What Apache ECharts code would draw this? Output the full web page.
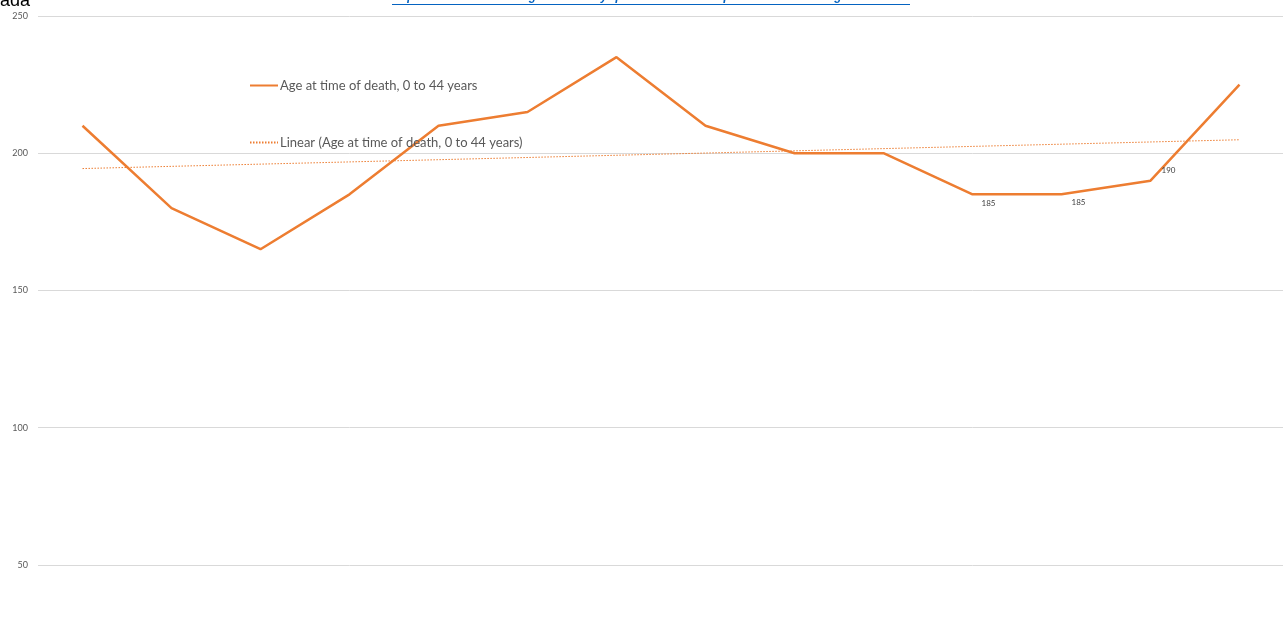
<!DOCTYPE html>
<html><head><meta charset="utf-8">
<script src="https://cdn.jsdelivr.net/npm/echarts@6/dist/echarts.min.js"></script>
<style>html,body{margin:0;padding:0;background:#fff}#c{width:1283px;height:630px}</style>
</head><body><div id="c"></div>
<script>
const categories = ['1','2','3','4','5','6','7','8','9','10','11','12','13','14'];
const deaths0to44 = [210,180,165,185,210,215,235,210,200,200,185,185,190,225];
const trendStart = 194.4;
const trendEnd = 204.9;
const labelledIdx = [10,11,12];
const yTicks = [0,50,100,150,200,250];

const seriesName = 'Age at time of death, 0 to 44 years';
const trendName = 'Linear (Age at time of death, 0 to 44 years)';
const orange = '#ED7D31';

const trendData = categories.map((c,i)=> i===0 ? trendStart : (i===categories.length-1 ? trendEnd : null));
const labelOffsets = {10:[16,9],11:[17,8],12:[18,-10.5]};
const mainData = deaths0to44.map((v,i)=>{
  if (labelledIdx.indexOf(i) >= 0) {
    return {value:v, label:{show:true, position:'inside', offset:labelOffsets[i]}};
  }
  return v;
});

const chart = echarts.init(document.getElementById('c'), null, {renderer:'canvas'});
chart.setOption({
  animation:false,
  backgroundColor:'#fff',
  textStyle:{fontFamily:'Lato'},
  graphic:[
    {type:'text', left:-33, top:-8, style:{text:'Canada', fontFamily:'Arial', fontSize:18, fill:'#000'}},
    {type:'text', left:392, top:-9, style:{text:'https://www150.statcan.gc.ca/n1/daily-quotidien/221206/dq221206f-cansim-eng.htm', fontFamily:'Arial', fontSize:12, fontStyle:'italic', fontWeight:'bold', fill:'#0563C1'}},
    {type:'line', shape:{x1:392, y1:4.5, x2:910, y2:4.5}, style:{stroke:'#0563C1', lineWidth:1}}
  ],
  grid:{left:38, right:-1, top:16, height:686, outerBoundsMode:'none', containLabel:false},
  legend:{
    orient:'vertical', left:249, top:79, padding:0, itemGap:44, itemWidth:28, itemHeight:12,
    itemStyle:{color:'rgba(0,0,0,0)', borderWidth:0},
    textStyle:{fontFamily:'Lato', fontSize:13, color:'#595959', padding:[0,0,0,-3]},
    data:[{name:seriesName},{name:trendName}]
  },
  xAxis:{
    type:'category', data:categories, boundaryGap:true,
    axisLine:{show:false}, axisTick:{show:false}, axisLabel:{show:false}
  },
  yAxis:{
    type:'value', min:0, max:250, interval:50,
    axisLine:{show:false}, axisTick:{show:false},
    axisLabel:{fontSize:9, color:'#595959', margin:10, fontFamily:'Lato'},
    splitLine:{lineStyle:{color:'#d9d9d9', width:1}}
  },
  series:[
    {
      name:seriesName, type:'line', data:mainData, symbol:'circle', symbolSize:0.1, showSymbol:true,
      lineStyle:{color:orange, width:2.5}, itemStyle:{color:'rgba(0,0,0,0)'},
      label:{show:false, fontSize:8, color:'#404040', fontFamily:'Lato'},
      z:3
    },
    {
      name:trendName, type:'line', data:trendData, connectNulls:true, symbol:'none',
      lineStyle:{color:orange, width:1, type:[1.5,1.5]}, itemStyle:{color:orange},
      z:2
    }
  ]
});
</script></body></html>
